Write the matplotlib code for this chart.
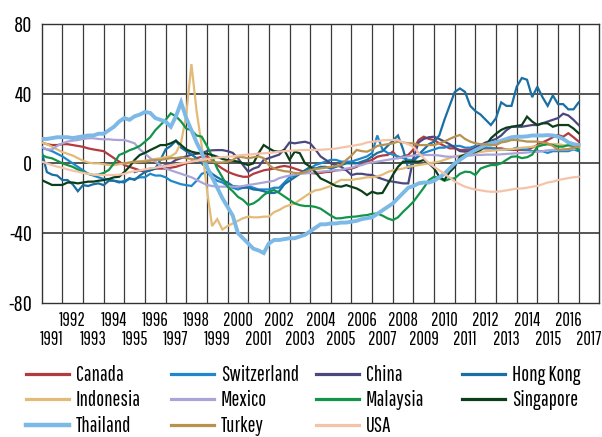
import matplotlib

matplotlib.use("Agg")

import matplotlib.pyplot as plt
import numpy as np
from matplotlib import font_manager as fm
from matplotlib.lines import Line2D

installed = {f.name for f in fm.fontManager.ttflist}
FONT = next((f for f in ["Pathway Gothic One", "Barlow Condensed", "Archivo Narrow"] if f in installed),
            "DejaVu Sans")
plt.rcParams["font.family"] = [FONT, "DejaVu Sans"]

# quarterly readings, first value at the series start year, step a quarter
canada = [
    12, 11, 10.5, 10.5, 11, 11, 10.5, 10, 9.5, 8.6, 8, 7.5, 7, 5, 3, 1,
    -1, -2, -3, -4, -4.8, -4, -3, -3, -3, -2.5, -2, -1, 0, 1, 3, 3.8,
    4, 2, -1, -3, -4.8, -6, -7, -7.7, -7.7, -6, -5, -4, -3.5, -3, -2, -1.5,
    -2, -3, -4, -5, -5.5, -5.8, -5.5, -5, -4.8, -4, -3.8, -3.5, -3, -2, 0, 1,
    2, 3.8, 4.5, 4.8, 6.7, 3, 4, 4.8, 8, 13.4, 15.3, 14, 13.4, 11.5, 10, 8.6,
    8.6, 7.7, 7.7, 8, 8.6, 8.6, 8.6, 8.6, 8.6, 8.6, 8, 7.7, 7.7, 7.7, 7.7, 9,
    10.5, 12, 13.4, 15, 16.3, 15.3, 17.3, 15, 12.5,
]
switzerland = [
    9, 8, 7, 5.5, 4, 2, 0, -2, -4, -6, -7, -8, -9, -9, -10, -11,
    -10, -9, -9, -8, -8, -6, -7, -7, -8, -10, -11, -12, -12.5, -13, -10, -6,
    -5, -8, -10, -11, -13, -14, -15, -14, -13, -14, -15, -15, -15, -14, -14, -11,
    -8, -7, -6, -4, -3, -1, 0, 1, 2, 2, 1, 1, 1, 2, 3, 4,
    6, 16, 8, 6, 5, 4, 3, 2, 2, 4, 6, 7, 8, 9, 9, 10,
    10, 10, 9, 9, 10, 9, 9, 9, 8, 8, 8, 8, 9, 8, 8, 7,
    7, 7, 6, 7, 7, 7, 7, 8, 7,
]
china = [
    -5, -4, -4, -3, -3, -2, -1, 0, 2, 3, 4, 5, 5.5, 6,
    7, 7.5, 7.6, 7.6, 7, 6, 3, -1, -4.8, -3, -2, 2, 3, 4, 5, 8,
    12, 11.5, 12, 12.4, 11.5, 8, 4, 2, 0, -1, -2, -4, -6.7, -6, -6, -6.5,
    -6.7, -8, -9, -10, -10.5, -11, -11.5, -11.5, 3, 12, 14, 15, 15.3, 14, 12.5, 11,
    9, 7, 6.7, 7, 9, 10.5, 12, 13, 14, 16, 19, 21, 21, 21, 21.5, 22,
    22, 23, 24, 25, 26, 28.5, 27.5, 25, 22,
]
hong_kong = [
    6.7, -5, -6.5, -7, -9.6, -9.6, -12, -16, -12.5, -13, -12, -11.5, -12.5, -10, -10, -10.5,
    -11, -8.5, -9.5, -7, -5, -4, -3, 2, 8, 10, 13, 9, 7, 5, 3, 0,
    -3, -6, -8, -9.6, -11, -13, -13.4, -14, -14, -15, -15.3, -16, -17, -17, -16, -12,
    -10, -8, -6, -4, -2, -3, -2, -2, -3, -2, -1, 0, 0, 0, 1, 2,
    4, 6, 7, 10, 13, 16, 8, -3, 1, 5, 8, 11, 12.5, 16, 25, 33,
    41, 43, 41, 33, 30, 28, 25, 22, 26, 35, 33, 33, 44, 49, 48, 38,
    44, 38, 33, 39, 34, 34, 31, 31, 35,
]
indonesia = [
    12, 11, 9.5, 8, 6.5, 5.5, 4.5, 3, 1.5, 0.5, 0, 0, -0.5, -1, -1, -0.5,
    0, 0, 0.5, 1, 1.5, 2, 2.5, 3, 3.5, 4, 6, 12, 28, 57, 30, 10,
    -15, -36, -32, -38, -36, -34.5, -33, -31.5, -30.6, -31, -31, -30.6, -30.6, -28, -26.8, -25,
    -24, -23, -21, -19, -17, -15.5, -15, -14, -13, -11, -9.5, -9.5, -9.5, -9, -8.6, -8,
    -8, -7.5, -6.5, -5, -4, -3.5, -3, -2, -1.5, -1, -0.5, 0, 0.5, 1, 2, 3,
    4, 4.5, 5, 5.5, 6, 6.5, 7, 7.2, 7.5, 7.8, 8, 8.2, 8.5, 9, 9.2, 9.5,
    10, 10.5, 11, 11, 11, 10.5, 10, 10, 9.5,
]
mexico = [
    9.5, 8, 8, 10, 11.5, 12.5, 13, 13.4, 14, 14.4, 14.4, 14, 13.8, 13.8, 13.5, 13.4,
    13.4, 12.5, 11.5, 8, 5.7, 3, 1, -1, -3, -4, -5, -6, -7, -8, -9.5, -11,
    -12.4, -13, -13.4, -13.4, -13.4, -13.4, -13.4, -13, -12.4, -12, -11.5, -11, -10.5, -10, -8.5, -7.7,
    -7, -6.5, -6, -5.8, -5.5, -5, -4.8, -4.5, -4.2, -4, -3.8, -3, -2.5, -1.5, -1, 0,
    0.5, 1, 1.5, 2, 2.5, 3, 3.5, 4, 4.5, 4.8, 4.8, 4.8, 4.8, 4.5, 4, 3.8,
    3.8, 4, 4.2, 4.5, 4.8, 4.8, 5, 5, 5, 5.2, 5.4, 5.6, 5.8, 6, 6.2, 6.5,
    6.7, 7, 7.5, 7.7, 7.7, 7.7, 8, 8.2, 8.6,
]
malaysia = [
    4.8, 3.5, 2.9, 1.5, 0, -1, -2, -3.5, -5, -6, -6.7, -6.5, -5.5, -3.8, 0, 4.8,
    6, 7.5, 8.6, 10, 12.4, 15, 19, 22, 25, 28.7, 27, 24, 20, 19, 16, 15.3,
    10, 4, -3, -8, -13.4, -16, -19.2, -21, -23.9, -23, -21, -18.2, -16.3, -15.3, -17, -19,
    -21, -23, -24, -24.5, -24.5, -25, -26, -28, -30, -31.6, -31.5, -31, -30.7, -30.5, -30, -29.7,
    -29, -28.8, -30, -31.6, -32.6, -31, -27.8, -25, -22, -18, -14, -9.6, -7.7, -8.5, -10, -9,
    -8.6, -6, -4.8, -5, -6.7, -3, -1.9, -1, -1, 0, 2, 3.8, 4, 3, 3.5, 5,
    9.6, 10.5, 11, 10.5, 9.6, 9.6, 10.5, 10, 7.7,
]
singapore = [
    -9.6, -11, -12.4, -12.4, -12.4, -11, -11, -11.5, -11, -10.5, -10.5, -10, -9.6, -9, -8, -7.7,
    -5, -1.9, 2, 4.8, 6, 7.6, 9, 10.5, 10.5, 11.5, 13, 10.5, 8, 6.7, 6, 5.8,
    5.5, 4.8, 3.8, 2.5, 1.9, 1.5, 1, 0, -1, 0, 5.8, 10.5, 8.6, 7, 6.7, 7.6,
    2, 6.7, 5.8, 0, -1.9, -5, -8.6, -10, -11.5, -13, -13.4, -12.5, -13.5, -14.4, -16, -18.2,
    -16.3, -17.3, -17, -12, -6.7, -2, 1, 1, 1, 1, 1.9, 0, -2.9, -7.7, -9.6, -5,
    -2, 3.8, 5, 5.8, 6.5, 7.7, 10, 14.4, 17, 19.2, 20.5, 21, 21.5, 22, 26.8, 24,
    22, 23, 23, 21, 22, 22, 22, 20, 17.3,
]
thailand = [
    14, 14, 14.5, 15, 15, 15, 14.5, 15, 15.5, 16, 16, 17, 17, 19, 21, 24,
    26, 25, 27, 28, 29.5, 29, 26, 25, 24, 21, 27, 35, 26, 19, 12, 6,
    -2, -8, -14, -20, -25, -30, -40, -43, -46, -49, -50, -51.5, -46, -44, -44, -43.5,
    -43, -43, -42, -41, -39, -37, -35, -35, -34.5, -34.5, -34, -34, -33.5, -33, -32, -31.5,
    -31, -29, -27, -25, -23, -20, -17, -14, -13, -11.5, -11, -11, -10, -8, -6, -3,
    0, 2, 4, 6, 7.6, 9, 10.5, 11.5, 12, 13, 14, 15, 15.3, 15.3, 15.5, 16,
    16, 16, 16.2, 16, 15.3, 14, 12, 11, 10.5,
]
turkey = [
    0, 0.5, 1, 1, 1, 1.5, 2, 2, 2.5, 3, 3, 3.5, 3, 2.5, 2, 1.5,
    1, 1, 0.5, 0.5, 1, 2, 3.8, 3.5, 2.9, 3.5, 4, 3, -1, -3, -3.8, -4.5,
    -4.8, -5.5, -5.8, -5, -3.8, -3.3, -2.9, -2.5, -2, -1.5, -1, 2, 4.5, 7.7, 7, 6.7,
    8, 10, 10.5, 11, 11.5, 12.5, 12, 11.5, 11.5, 10.5, 10.5, 10.5, 10.5, 11.5, 12.5, 14,
    15.3, 16.3, 14, 12.5, 11.5, 11, 11, 10.5, 10.5, 12, 12.5, 13.4, 13.4, 13, 12.5, 12.5,
    12.5, 12, 11.5, 10, 7.7, 8, 8.2, 9, 9.6,
]
usa = [
    1, 0, -1, -1.9, -2.5, -3.5, -4.2, -4.8, -5.5, -6, -6.5, -6.7, -6.7, -6.7, -6.7, -6.5,
    -6, -5, -4.5, -4, -3.5, -2.9, -2.5, -2, -1.5, -1, -0.5, 0, 0.5, 1, 1.5, 2,
    2.5, 2.9, 3.3, 3.6, 3.8, 4, 4.5, 4.8, 5, 5.3, 5.6, 5.8, 6, 6.3, 6.7, 7,
    7.2, 7.4, 7.6, 7.7, 7.7, 7.7, 7.8, 8, 8.2, 8.5, 9, 9.5, 10, 10.5, 11, 12,
    12.4, 12.8, 13.2, 13.4, 13.4, 13.4, 12, 11, 9.5, 6, 3, 0, -2, -4, -6, -8,
    -10.5, -12, -13.4, -14.3, -15, -15.5, -16, -16.3, -16.3, -16, -15.5, -15, -14.5, -14.4, -14, -13.4,
    -13, -12, -11, -10.5, -9.6, -9, -8.5, -8, -7.7,
]

SERIES = [
    ("Canada", canada, 1991.0, "#b23a40", 1.6),
    ("Switzerland", switzerland, 1991.0, "#1f88cc", 1.6),
    ("China", china, 1995.5, "#4b4880", 1.6),
    ("Hong Kong", hong_kong, 1991.0, "#1a6fa3", 1.6),
    ("Indonesia", indonesia, 1991.0, "#e2bb78", 1.6),
    ("Mexico", mexico, 1991.0, "#aaa5d8", 1.6),
    ("Malaysia", malaysia, 1991.0, "#139549", 1.6),
    ("Singapore", singapore, 1991.0, "#0b3f1c", 1.6),
    ("Thailand", thailand, 1991.0, "#7cb9e6", 2.8),
    ("Turkey", turkey, 1995.0, "#b8924f", 1.6),
    ("USA", usa, 1991.0, "#f4c3a8", 1.6),
]

YEARS = list(range(1991, 2018))
Y_TICKS = [-80, -40, 0, 40, 80]

fig = plt.figure(figsize=(6.02, 4.37), dpi=100)
fig.patch.set_facecolor("white")
renderer = fig.canvas.get_renderer()


def fit_size(sample, target_px):
    probe = fig.text(0, 0, sample, fontsize=10)
    width = probe.get_window_extent(renderer).width
    probe.remove()
    return 10 * target_px / width


YEAR_SIZE = fit_size("1992", 26.5)
YTICK_SIZE = fit_size("80", 18)
LEGEND_SIZE = fit_size("Switzerland", 78)

ax = fig.add_axes([41.7 / 602, 1 - 302.7 / 437, 557.6 / 602, 278.7 / 437])

for name, values, start, color, lw in SERIES:
    t = start + 0.25 * np.arange(len(values))
    ax.plot(t, values, color=color, lw=lw, solid_joinstyle="miter", zorder=3)

ax.set_xlim(1991, 2018)
ax.set_ylim(-80, 80)

for yr in range(1992, 2018):
    ax.axvline(yr, color="#3a3a3a", lw=0.9, zorder=1)
for y in (-40, 0, 40):
    ax.axhline(y, color="#555555", lw=1.4, zorder=1)

# even years on the upper row, odd years on the lower row
even = [y for y in YEARS if y % 2 == 0]
odd = [y for y in YEARS if y % 2 == 1]
ax.set_xticks([y + 0.5 for y in even], [str(y) for y in even], fontsize=YEAR_SIZE, va="center")
ax.set_xticks([y + 0.5 for y in odd], [str(y) for y in odd], minor=True, fontsize=YEAR_SIZE, va="center")
ax.tick_params(axis="x", which="major", length=0, pad=18.3 * 0.72)
ax.tick_params(axis="x", which="minor", length=0, pad=36.8 * 0.72)
ax.set_yticks(Y_TICKS)
ax.set_yticklabels([str(v) for v in Y_TICKS], fontsize=YTICK_SIZE)
ax.tick_params(axis="y", length=0, pad=7)
for spine in ax.spines.values():
    spine.set_color("#333333")
    spine.set_linewidth(1.0)

# legend: one entry per slot, four columns filled row by row like the source
col_x = [26, 171, 316, 462]
row_y = [375, 400.5, 426]
for i, (name, values, start, color, lw) in enumerate(SERIES):
    handle = Line2D([], [], color=color, lw=3.2 if name == "Thailand" else 2.3)
    fig.legend([handle], [name], loc="center left",
               bbox_to_anchor=(col_x[i % 4] / 602, 1 - row_y[i // 4] / 437), frameon=False,
               fontsize=LEGEND_SIZE, handlelength=43 / (LEGEND_SIZE * 100 / 72),
               handletextpad=7 / (LEGEND_SIZE * 100 / 72), borderpad=0, borderaxespad=0)

fig.savefig("out.png", dpi=100, facecolor="white")
